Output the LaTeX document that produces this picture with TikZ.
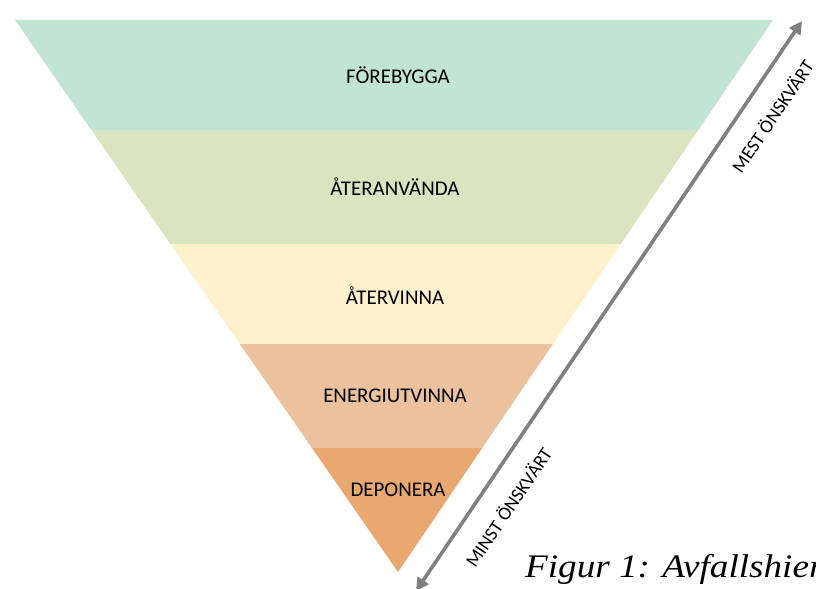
\documentclass[tikz,border=0pt]{standalone}
\usepackage{fontspec}
\setmainfont{Carlito}
\newfontfamily\capfont{Liberation Serif}
\usetikzlibrary{arrows.meta}
\definecolor{bandA}{HTML}{C2E4D2}
\definecolor{bandB}{HTML}{D8E5C0}
\definecolor{bandC}{HTML}{FEF1CB}
\definecolor{bandD}{HTML}{EBC29D}
\definecolor{bandE}{HTML}{E8A870}
\definecolor{arrowgray}{HTML}{808080}
\tikzset{
  bandlabel/.style={font=\fontsize{21}{25}\selectfont, text=black, inner sep=0pt},
  sidelabel/.style={font=\fontsize{19}{23}\selectfont, text=black, inner sep=0pt, rotate=55.9},
  scalearrow/.style={arrowgray, line width=3.6bp, {Triangle[length=13bp,width=13bp]}-{Triangle[length=13bp,width=13bp]}}
}
\begin{document}
\begin{tikzpicture}[x=1bp,y=-1bp]
\useasboundingbox (0,0) rectangle (816,589);
\clip (0,0) rectangle (816,589);
\begin{scope}
  \clip (15,20) -- (773,20) -- (398,572) -- cycle;
  \fill[bandA] (0,19) rectangle (816,130.5);
  \fill[bandB] (0,130) rectangle (816,244.5);
  \fill[bandC] (0,244) rectangle (816,344.5);
  \fill[bandD] (0,344) rectangle (816,448.5);
  \fill[bandE] (0,448) rectangle (816,580);
\end{scope}
\node[bandlabel] (l1) at (398,75) {FÖREBYGGA};
\node[bandlabel] (l2) at (395,187) {ÅTERANVÄNDA};
\node[bandlabel] (l3) at (395,296) {ÅTERVINNA};
\node[bandlabel] (l4) at (395,396) {ENERGIUTVINNA};
\node[bandlabel] (l5) at (398,490) {DEPONERA};
\coordinate (top) at (802,21);
\coordinate (bot) at (416,591);
\draw[scalearrow] (bot) -- (top);
\node[sidelabel] (most) at (772,116) {MEST ÖNSKVÄRT};
\node[sidelabel] (least) at (508,507) {MINST ÖNSKVÄRT};
\node[anchor=base west, inner sep=0pt, font=\capfont\itshape\fontsize{33}{37}\selectfont] (cap) at (525,577) {\scalebox{1.13}[1]{Figur 1: Avfallshierarki}};
\end{tikzpicture}
\end{document}
